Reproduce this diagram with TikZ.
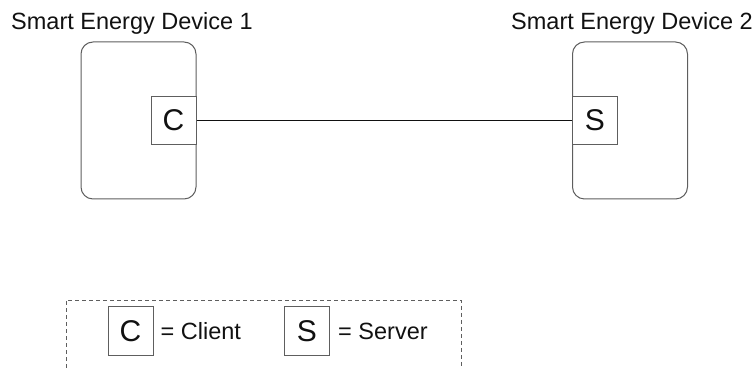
\documentclass[tikz,border=0pt]{standalone}
\usepackage{fontspec}
\setmainfont{Liberation Sans}
\usepackage{tikz}
\usetikzlibrary{positioning}
\definecolor{ink}     {HTML}{111111}
\definecolor{edgegray}{HTML}{5E5E5E}

\begin{document}
\begin{tikzpicture}[x=1pt,y=1pt,
    device/.style={draw=edgegray,line width=1pt,rounded corners=12pt,
      minimum width=115pt,minimum height=157pt,inner sep=0pt},
    rolebox/.style={draw=edgegray,fill=white,line width=1pt,inner sep=0pt,
      minimum width=45pt,minimum height=48pt,text=ink,
      font=\fontsize{30}{30}\selectfont},
    devtitle/.style={anchor=base,inner sep=0pt,text=ink,
      font=\fontsize{23.5}{26}\selectfont},
    keytext/.style={inner sep=0pt,text=ink,font=\fontsize{23.5}{26}\selectfont}]
  \useasboundingbox (0,0) rectangle (756,369);

  % the two devices
  \node[device] (dev1) at (138.5,248.5) {};
  \node[device] (dev2) at (630,248.5) {};
  \node[devtitle] (title1) at (132,339) {Smart Energy Device 1};
  \node[devtitle] (title2) at (632,339) {Smart Energy Device 2};

  % client and server ends
  \node[rolebox,anchor=east] (client) at (dev1.east) {C};
  \node[rolebox,anchor=west] (server) at (dev2.west) {S};
  \draw[ink,line width=1pt] (client.east) -- (server.west);

  % legend
  \draw[edgegray,line width=0.8pt,dash pattern=on 4pt off 3pt]
    (66,-20) rectangle (461,69);
  \node[rolebox,minimum height=49pt] (keyC) at (130.5,37.5) {C};
  \node[keytext,right=7pt of keyC] (keyCtext) {= Client};
  \node[rolebox,minimum height=49pt] (keyS) at (307,37.5) {S};
  \node[keytext,right=8pt of keyS] (keyStext) {= Server};
\end{tikzpicture}
\end{document}
